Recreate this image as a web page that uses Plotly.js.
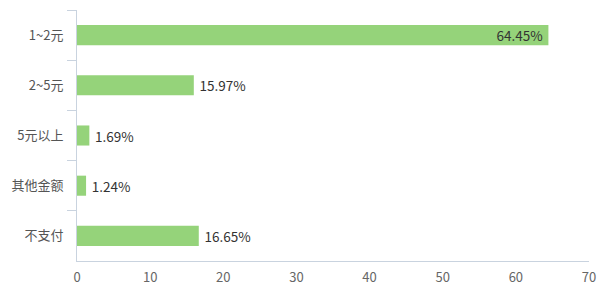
<!DOCTYPE html>
<html>
<head>
<meta charset="utf-8">
<script src="https://cdn.plot.ly/plotly-3.0.1.min.js"></script>
<style>html,body{margin:0;padding:0;background:#fff;}#chart{width:600px;height:300px;}</style>
</head>
<body>
<div id="chart"></div>
<script>
const categories = ["1~2元", "2~5元", "5元以上", "其他金额", "不支付"];
const values = [64.45, 15.97, 1.69, 1.24, 16.65];
const labelPositions = ["inside", "outside", "outside", "outside", "outside"];
const xTicks = [0, 10, 20, 30, 40, 50, 60, 70];

const trace = {
  type: 'bar',
  orientation: 'h',
  y: categories,
  x: values,
  text: values.map((v, i) => (labelPositions[i] === 'outside' ? '\u2009' : '') + v.toFixed(2) + '%' + (labelPositions[i] === 'inside' ? '\u2009' : '')),
  textposition: labelPositions,
  insidetextanchor: 'end',
  constraintext: 'none',
  textfont: {family: '"Noto Sans CJK SC", "Noto Sans", sans-serif', size: 13.5, color: '#333'},
  insidetextfont: {color: '#333', size: 13.5},
  outsidetextfont: {color: '#333', size: 13.5},
  cliponaxis: false,
  marker: {color: '#95d37a'},
  hoverinfo: 'none'
};

const layout = {
  width: 600, height: 300,
  margin: {l: 77, r: 11, t: 10, b: 39},
  paper_bgcolor: '#fff', plot_bgcolor: '#fff',
  font: {family: '"Noto Sans CJK SC", "Noto Sans", sans-serif', size: 13, color: '#555'},
  bargap: 0.6,
  showlegend: false,
  xaxis: {
    range: [0, 70],
    tickvals: xTicks,
    ticktext: xTicks.map(String),
    showgrid: false,
    zeroline: false,
    showline: true,
    linecolor: '#c9d3df',
    linewidth: 1,
    ticks: '',
    ticklabelstandoff: 4,
    tickfont: {color: '#666', size: 13},
    fixedrange: true
  },
  yaxis: {
    type: 'category',
    autorange: 'reversed',
    showgrid: false,
    zeroline: false,
    showline: true,
    linecolor: '#c9d3df',
    linewidth: 1,
    ticks: 'outside',
    tickson: 'boundaries',
    ticklen: 9,
    tickcolor: '#c9d3df',
    ticklabelstandoff: 10,
    tickfont: {color: '#555', size: 13},
    fixedrange: true
  }
};

Plotly.newPlot('chart', [trace], layout, {displayModeBar: false, staticPlot: true});
</script>
</body>
</html>
